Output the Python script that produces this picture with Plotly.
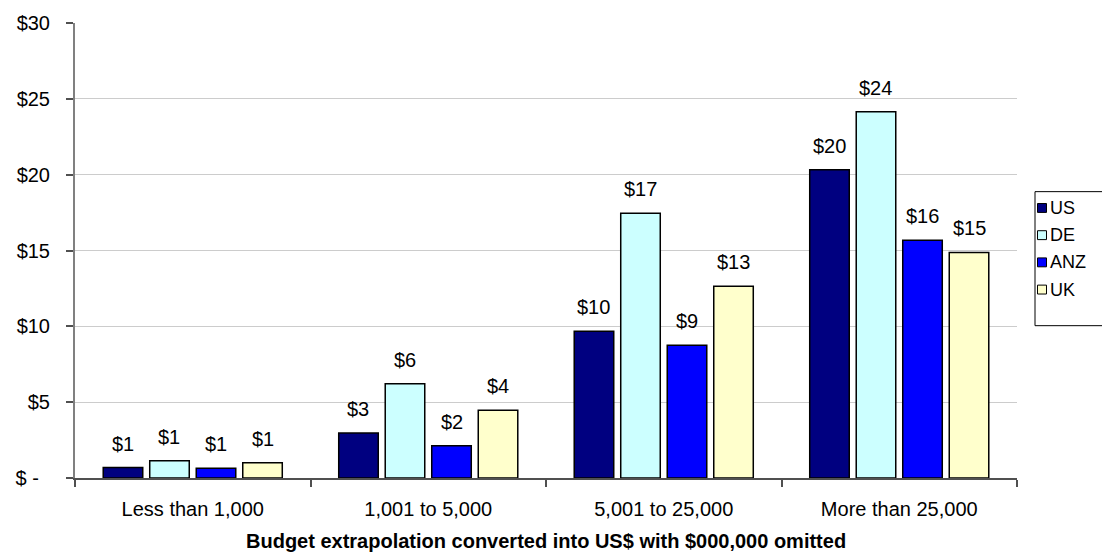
import plotly.graph_objects as go

# Budget bands (US$, $000,000 omitted) and average budget per region
categories = ["Less than 1,000", "1,001 to 5,000", "5,001 to 25,000", "More than 25,000"]
series_names = ["US", "DE", "ANZ", "UK"]
us_values = [0.69, 2.96, 9.68, 20.33]
de_values = [1.13, 6.22, 17.45, 24.15]
anz_values = [0.65, 2.13, 8.76, 15.67]
uk_values = [1.00, 4.46, 12.65, 14.87]
y_tick_values = [0, 5, 10, 15, 20, 25, 30]
y_tick_labels = ["$ -\u00a0\u00a0", "$5", "$10", "$15", "$20", "$25", "$30"]

series_values = [us_values, de_values, anz_values, uk_values]
colors = ["#000080", "#CCFFFF", "#0000FF", "#FFFFCC"]

W, H = 1102, 557
ML, MR, MT, MB = 75, 85, 18, 79
PW, PH = W - ML - MR, H - MT - MB
BARGAP = 0.21
FONT = "Liberation Sans, Arial, sans-serif"


def px_x(px):
    return (px - ML) / PW


def px_y(py):
    return (H - MB - py) / PH


fig = go.Figure()
for name, vals, col in zip(series_names, series_values, colors):
    fig.add_trace(go.Bar(
        x=categories, y=vals, name=name,
        marker=dict(color=col, line=dict(color="#000000", width=1.5)),
        showlegend=False,
    ))

# value labels above each bar
pitch = PW / len(categories) * (1 - BARGAP) / len(series_names)
annotations = []
for i, vals in enumerate(series_values):
    shift = (i - (len(series_names) - 1) / 2) * pitch
    for cat, v in zip(categories, vals):
        annotations.append(dict(
            x=cat, y=v, xref="x", yref="y", xshift=shift, yshift=11,
            text=f"${v:.0f}", showarrow=False, yanchor="bottom",
            font=dict(family=FONT, size=20, color="#000000"),
        ))

# axis title
annotations.append(dict(
    x=0.5, y=px_y(542), xref="paper", yref="paper",
    text="<b>Budget extrapolation converted into US$ with $000,000 omitted</b>",
    showarrow=False, yanchor="middle",
    font=dict(family=FONT, size=20, color="#000000"),
))

# legend box with entries
shapes = [dict(
    type="rect", xref="paper", yref="paper",
    x0=px_x(1035), x1=px_x(1112), y0=px_y(324), y1=px_y(188.5),
    line=dict(color="#000000", width=1), fillcolor="#FFFFFF", layer="above",
)]
legend_y = [205, 232.5, 260, 287.5]
for name, col, cy in zip(series_names, colors, legend_y):
    shapes.append(dict(
        type="rect", xref="paper", yref="paper",
        x0=px_x(1037.5), x1=px_x(1046.5), y0=px_y(cy + 4.5), y1=px_y(cy - 4.5),
        line=dict(color="#000000", width=1), fillcolor=col, layer="above",
    ))
    annotations.append(dict(
        x=px_x(1048), y=px_y(cy), xref="paper", yref="paper",
        text=name, showarrow=False, xanchor="left", yanchor="middle",
        font=dict(family=FONT, size=18, color="#000000"),
    ))

fig.update_layout(
    width=W, height=H,
    margin=dict(l=ML, r=MR, t=MT, b=MB, pad=0),
    paper_bgcolor="#FFFFFF", plot_bgcolor="#FFFFFF",
    barmode="group", bargap=BARGAP, bargroupgap=0.15,
    annotations=annotations, shapes=shapes,
    font=dict(family=FONT, size=20, color="#000000"),
)
fig.update_xaxes(
    type="category", tickson="boundaries", ticks="outside", ticklen=7,
    tickcolor="#505050", tickwidth=1.5,
    showline=True, linecolor="#505050", linewidth=1.5,
    showgrid=False, ticklabelstandoff=12,
    tickfont=dict(family=FONT, size=20, color="#000000"),
)
fig.update_yaxes(
    range=[0, 30], tickvals=y_tick_values, ticktext=y_tick_labels,
    ticks="outside", ticklen=7, tickcolor="#505050", tickwidth=1.5,
    showline=True, linecolor="#808080", linewidth=2,
    showgrid=True, gridcolor="#CCCCCC", gridwidth=1,
    zeroline=False, ticklabelstandoff=12,
    tickfont=dict(family=FONT, size=20, color="#000000"),
)

fig.write_html("out.html")
